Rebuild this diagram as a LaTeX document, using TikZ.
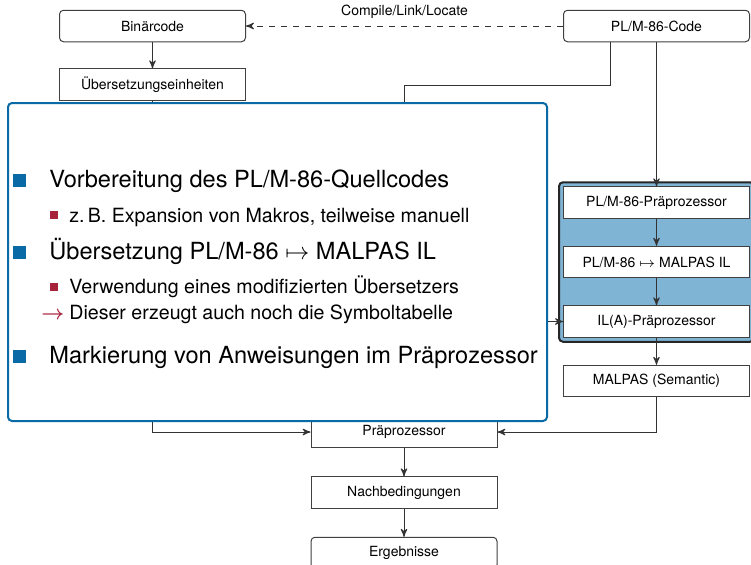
\documentclass[tikz,border=0pt]{standalone}
\usepackage{amsmath}
\usepackage{amssymb}
\usepackage{fontspec}
\setmainfont{TeX Gyre Heros}
\usetikzlibrary{calc,positioning,arrows,fit,backgrounds}
\definecolor{folienblau}{RGB}{10,106,165}
\definecolor{folienrot}{RGB}{168,33,58}
\definecolor{gruppenblau}{RGB}{128,180,212}
\tikzset{
>=stealth',
  codebox/.style={
    rectangle,
    draw=black!75, line width=0.5pt,
    fill=white,
    minimum width=93pt,
    minimum height=15.75pt,
    inner sep=1pt,
    font=\fontsize{7}{8}\selectfont,
    text centered},
  line/.style={draw, line width=0.5pt, black!80, ->},
  bigbox/.style={
    rectangle,
    rounded corners=2pt,
    draw=folienblau, line width=1pt,
    fill=white},
  gruppe/.style={
    rectangle,
    rounded corners=2pt,
    draw=black!85, line width=1pt,
    fill=gruppenblau,
    inner sep=2pt},
  punkttext/.style={anchor=base west, inner sep=0pt, font=\fontsize{11.8}{13}\selectfont},
  unterpunkt/.style={anchor=base west, inner sep=0pt, font=\fontsize{9.8}{11}\selectfont},
  blauquadrat/.style={rectangle, fill=folienblau, minimum size=6.5pt, inner sep=0pt},
  rotquadrat/.style={rectangle, fill=folienrot, minimum size=4pt, inner sep=0pt},
}
\begin{document}
\begin{tikzpicture}[x=0.5pt,y=-0.5pt]
\useasboundingbox (0,0) rectangle (751,564);

%Nodes
\node[codebox, rounded corners=2pt] (binaer)  at (152.5,26) {Binärcode};
\node[codebox]                  (einheiten)   [below=13pt of binaer] {Übersetzungseinheiten};
\node[codebox, rounded corners=2pt] (plmcode) at (656.5,26) {PL/M-86-Code};
\node[codebox]                  (plmpre)      at (656.5,202.5) {PL/M-86-Präprozessor};
\node[codebox]                  (plmil)       [below=13.5pt of plmpre] {PL/M-86 $\mapsto$ MALPAS IL};
\node[codebox]                  (ilpre)       [below=13.5pt of plmil] {IL(A)-Präprozessor};
\node[codebox]                  (malpas)      [below=13.5pt of ilpre] {MALPAS (Semantic)};
\node[codebox]                  (praepro)     at (404,432) {Präprozessor};
\node[codebox]                  (nachbed)     [below=14pt of praepro] {Nachbedingungen};
\node[codebox, rounded corners=2pt] (ergebnisse) [below=14pt of nachbed] {Ergebnisse};

\begin{scope}[on background layer]
\node[gruppe, fit=(plmpre) (ilpre)] (werkzeug) {};
\end{scope}

\coordinate (knick)  at (404,85);
\coordinate (symtab) at ([xshift=-60pt]ilpre.west);

%Lines
\draw[line, dashed] (plmcode) -- node[above, font=\fontsize{7}{8}\selectfont, black] {Compile/Link/Locate} (binaer);
\draw[line] (binaer) -- (einheiten);
\draw[line] (einheiten) |- (praepro);
\draw[line] ([xshift=-23.25pt]plmcode.south) |- (knick) -- (praepro);
\draw[line] (plmcode) -- (plmpre);
\draw[line] (plmpre) -- (plmil);
\draw[line] (plmil) -- (ilpre);
\draw[line] (ilpre) -- (malpas);
\draw[line] (malpas) |- (praepro);
\draw[line] (symtab) -- (ilpre);
\draw[line] (praepro) -- (nachbed);
\draw[line] (nachbed) -- (ergebnisse);

%Folie
\node[bigbox, minimum width=269.5pt, minimum height=159pt] (folie) at (277.5,262) {};

\node[blauquadrat] (b1) at (19.5,180.5) {};
\node[punkttext]   (p1) at (49,187) {Vorbereitung des PL/M-86-Quellcodes};
\node[rotquadrat]  (r1) at (54,214.5) {};
\node[unterpunkt]  (u1) at (69,222) {z.\,B. Expansion von Makros, teilweise manuell};
\node[blauquadrat] (b2) at (19.5,252.5) {};
\node[punkttext]   (p2) at (49,259) {Übersetzung PL/M-86 $\mapsto$ MALPAS IL};
\node[rotquadrat]  (r2) at (54,286.5) {};
\node[unterpunkt]  (u2) at (69,293) {Verwendung eines modifizierten Übersetzers};
\node[unterpunkt, text=folienrot] (pfeil) at (41,319) {$\boldsymbol{\rightarrow}$};
\node[unterpunkt]  (u3) at (69,319) {Dieser erzeugt auch noch die Symboltabelle};
\node[blauquadrat] (b3) at (19.5,356.5) {};
\node[punkttext]   (p3) at (49,363) {Markierung von Anweisungen im Präprozessor};

\end{tikzpicture}
\end{document}
